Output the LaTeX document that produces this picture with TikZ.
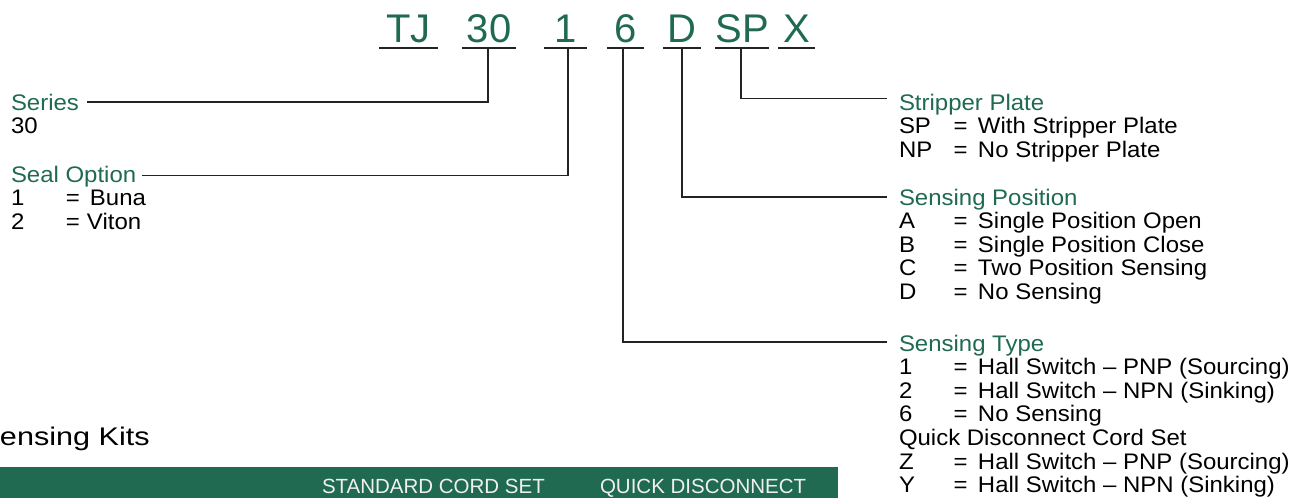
\documentclass[tikz,border=0pt]{standalone}
\usepackage{fontspec}
\setmainfont{Liberation Sans}
\newfontfamily\legendfont[FakeStretch=1.065,Ligatures=TeX]{Liberation Sans}
\newfontfamily\kitsfont[FakeStretch=1.2]{Liberation Sans}
\definecolor{tjgreen}{RGB}{31,106,80}
\definecolor{lineclr}{RGB}{35,35,35}
\newcommand{\tjtitle}[1]{\textcolor{tjgreen}{#1}}
\tikzset{
  code/.style={text=tjgreen, font=\fontsize{40}{40}\selectfont, inner sep=0pt, outer sep=0pt, text depth=0pt, anchor=base},
  uline/.style={draw=lineclr, line width=1.8pt},
  conn/.style={draw=lineclr, line width=1.2pt},
  legend/.style={inner sep=0pt, outer sep=0pt, anchor=base west, font=\legendfont\fontsize{22.5}{23.6}\selectfont},
  bartext/.style={inner sep=0pt, outer sep=0pt, anchor=base west, text=white!94!black, font=\fontsize{20.5}{20.5}\selectfont},
}
\begin{document}
\begin{tikzpicture}[x=1pt,y=-1pt]
\useasboundingbox (0,0) rectangle (1297,498);
% code
\node[code, minimum width=59pt] (cTJ) at (408.5,42) {TJ};
\node[code, minimum width=54pt] (c30) at (489,42) {30};
\node[code, minimum width=43pt] (c1) at (565.5,42) {1};
\node[code, minimum width=37pt] (c6) at (625.5,42) {6};
\node[code, minimum width=38pt] (cD) at (682,42) {D};
\node[code, minimum width=50pt] (cSP) at (742,42) {SP};
\node[code, minimum width=37pt] (cX) at (796.5,42) {X};
\foreach \n in {cTJ,c30,c1,c6,cD,cSP,cX}
  \draw[uline] ([yshift=-6pt]\n.south west) -- ([yshift=-6pt]\n.south east);
% legends left
\node[legend] (series) at (11,110) {\begin{tabular}[t]{@{}l@{}}\tjtitle{Series}\\30\end{tabular}};
\node[legend] (seal) at (11,182) {\begin{tabular}[t]{@{}p{55pt}@{}p{21pt}@{}l@{}}\multicolumn{3}{@{}l@{}}{\tjtitle{Seal Option}}\\1&=&\hspace{3pt}Buna\\2&=&Viton\end{tabular}};
% legends right
\node[legend] (strip) at (899,110) {\begin{tabular}[t]{@{}p{54.5pt}@{}p{24.5pt}@{}l@{}}\multicolumn{3}{@{}l@{}}{\tjtitle{Stripper Plate}}\\SP&=&With Stripper Plate\\NP&=&No Stripper Plate\end{tabular}};
\node[legend] (spos) at (899,205) {\begin{tabular}[t]{@{}p{54.5pt}@{}p{24.5pt}@{}l@{}}\multicolumn{3}{@{}l@{}}{\tjtitle{Sensing Position}}\\A&=&Single Position Open\\B&=&Single Position Close\\C&=&Two Position Sensing\\D&=&No Sensing\end{tabular}};
\node[legend] (stype) at (899,351) {\begin{tabular}[t]{@{}p{54.5pt}@{}p{24.5pt}@{}l@{}}\multicolumn{3}{@{}l@{}}{\tjtitle{Sensing Type}}\\1&=&Hall Switch – PNP (Sourcing)\\2&=&Hall Switch – NPN (Sinking)\\6&=&No Sensing\\\multicolumn{3}{@{}l@{}}{Quick Disconnect Cord Set}\\Z&=&Hall Switch – PNP (Sourcing)\\Y&=&Hall Switch – NPN (Sinking)\end{tabular}};
% connector ends
\coordinate (seriesEnd) at (87,102);
\coordinate (sealEnd) at (142,175.5);
\coordinate (stripEnd) at (887,98.5);
\coordinate (sposEnd) at (887,197);
\coordinate (stypeEnd) at (887,342);
\draw[conn] ([xshift=-1pt,yshift=-6pt]c30.south) |- (seriesEnd);
\draw[conn] ([xshift=2.5pt,yshift=-6pt]c1.south) |- (sealEnd);
\draw[conn] ([xshift=-2.5pt,yshift=-6pt]c6.south) |- (stypeEnd);
\draw[conn] ([yshift=-6pt]cD.south) |- (sposEnd);
\draw[conn] ([xshift=-1pt,yshift=-6pt]cSP.south) |- (stripEnd);
% bottom
\node[inner sep=0pt, outer sep=0pt, anchor=base west, font=\kitsfont\fontsize{25.5}{25.5}\selectfont] (kits) at (0,445.5) {\llap{S}ensing Kits};
\fill[tjgreen] (0,467) rectangle (838,498);
\node[bartext] (std) at (322,493) {STANDARD CORD SET};
\node[bartext] (qd) at (600,493) {QUICK DISCONNECT};
\end{tikzpicture}
\end{document}
